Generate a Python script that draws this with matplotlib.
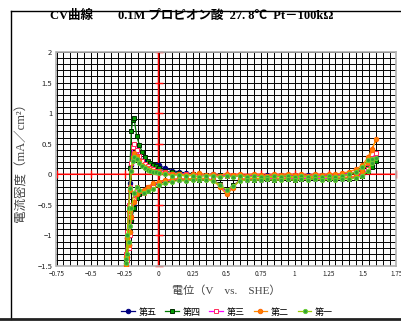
import matplotlib
matplotlib.use("Agg")
import matplotlib.pyplot as plt
from matplotlib.lines import Line2D
from matplotlib.ticker import MultipleLocator

plt.rcParams['font.family'] = ['Noto Sans CJK JP', 'DejaVu Sans']
SERIF = ['Liberation Serif', 'Noto Sans CJK JP', 'DejaVu Sans']

# potential sweep (V vs. SHE): forward then reverse
E_fwd = [-0.24, -0.23, -0.22, -0.21, -0.20, -0.19, -0.18, -0.16, -0.14, -0.12, -0.10, -0.08, -0.06, -0.04, -0.02, 0.00,
         0.05, 0.10, 0.15, 0.20, 0.25, 0.30, 0.35, 0.40, 0.45, 0.50,
         0.55, 0.60, 0.65, 0.70, 0.75, 0.80, 0.85, 0.90, 0.95, 1.00,
         1.05, 1.10, 1.15, 1.20, 1.25, 1.30, 1.35, 1.40, 1.45,
         1.50, 1.54, 1.57, 1.60]
E_rev = [1.57, 1.54, 1.50,
         1.45, 1.40, 1.35, 1.30, 1.25, 1.20, 1.15, 1.10, 1.05, 1.00,
         0.95, 0.90, 0.85, 0.80, 0.75, 0.70, 0.65, 0.60, 0.55, 0.50,
         0.45, 0.40, 0.35, 0.30, 0.25, 0.20, 0.15, 0.10, 0.05, 0.00,
         -0.04, -0.08, -0.11, -0.14, -0.16, -0.18, -0.20, -0.21, -0.22, -0.23, -0.24]
E = E_fwd + E_rev

# current density (mA/cm2)
y5 = [-1.40, -1.05, -0.60, -0.15, 0.15, 0.30, 0.33, 0.30, 0.26, 0.22, 0.20, 0.18, 0.17, 0.16, 0.15, 0.15,
      0.10, 0.06, 0.04, 0.02, 0.01, 0.00, -0.01, 0.00, -0.02, -0.01,
      -0.02, -0.01, -0.02, -0.01, -0.02, -0.01, -0.02, -0.01, -0.02, -0.01,
      -0.02, -0.01, -0.02, -0.01, -0.01, -0.01, 0.00, 0.01, 0.03,
      0.08, 0.15, 0.22, 0.28,
      0.15, 0.06, -0.01,
      -0.05, -0.06, -0.07, -0.07, -0.08, -0.07, -0.08, -0.07, -0.08, -0.08,
      -0.07, -0.08, -0.08, -0.08, -0.09, -0.08, -0.09, -0.09, -0.19, -0.28,
      -0.17, -0.10, -0.08, -0.09, -0.08, -0.09, -0.09, -0.10, -0.12, -0.14,
      -0.18, -0.22, -0.27, -0.30, -0.36, -0.52, -0.75, -0.95, -1.15, -1.35, -1.45]
y4 = [-1.40, -1.00, -0.55, 0.10, 0.70, 0.88, 0.92, 0.62, 0.48, 0.36, 0.28, 0.22, 0.19, 0.16, 0.13, 0.10,
      0.05, 0.03, 0.02, 0.01, 0.00, 0.00, -0.01, -0.02, -0.01, -0.02,
      -0.03, -0.02, -0.02, -0.03, -0.02, -0.03, -0.02, -0.04, -0.03, -0.02,
      -0.03, -0.02, -0.03, -0.02, -0.03, -0.02, -0.01, -0.01, 0.02,
      0.08, 0.15, 0.20, 0.22,
      0.12, 0.05, -0.02,
      -0.05, -0.07, -0.06, -0.08, -0.07, -0.08, -0.06, -0.08, -0.07, -0.09,
      -0.07, -0.08, -0.09, -0.07, -0.08, -0.09, -0.08, -0.10, -0.18, -0.27,
      -0.16, -0.10, -0.08, -0.09, -0.08, -0.09, -0.08, -0.10, -0.12, -0.14,
      -0.18, -0.22, -0.28, -0.32, -0.38, -0.55, -0.75, -0.95, -1.15, -1.35, -1.45]
y3 = [-1.30, -0.95, -0.50, -0.20, 0.18, 0.45, 0.50, 0.40, 0.30, 0.22, 0.17, 0.13, 0.10, 0.08, 0.06, 0.05,
      0.03, 0.01, 0.00, 0.01, -0.01, 0.00, -0.02, -0.01, -0.03, -0.02,
      -0.01, -0.03, -0.02, -0.01, -0.03, -0.02, -0.01, -0.03, -0.02, -0.01,
      -0.02, -0.03, -0.01, -0.02, -0.01, -0.02, 0.00, 0.01, 0.04,
      0.10, 0.18, 0.26, 0.35,
      0.20, 0.08, 0.00,
      -0.04, -0.06, -0.05, -0.07, -0.06, -0.08, -0.05, -0.07, -0.06, -0.08,
      -0.06, -0.07, -0.08, -0.06, -0.07, -0.08, -0.07, -0.09, -0.20, -0.30,
      -0.18, -0.09, -0.07, -0.08, -0.07, -0.08, -0.07, -0.09, -0.11, -0.13,
      -0.17, -0.21, -0.30, -0.28, -0.21, -0.40, -0.70, -1.00, -1.20, -1.40, -1.50]
y2 = [-1.35, -1.05, -0.60, -0.25, 0.05, 0.28, 0.35, 0.30, 0.22, 0.16, 0.12, 0.09, 0.07, 0.05, 0.04, 0.03,
      0.02, 0.00, 0.01, -0.01, 0.00, 0.02, -0.01, 0.00, -0.02, 0.01,
      -0.01, 0.00, -0.02, 0.01, -0.01, -0.02, 0.00, -0.01, 0.01, -0.01,
      0.00, -0.02, 0.00, -0.01, 0.01, 0.00, 0.02, 0.04, 0.08,
      0.15, 0.28, 0.42, 0.57,
      0.40, 0.20, 0.05,
      -0.03, -0.05, -0.04, -0.06, -0.05, -0.04, -0.06, -0.05, -0.04, -0.06,
      -0.05, -0.07, -0.05, -0.06, -0.07, -0.06, -0.07, -0.08, -0.22, -0.33,
      -0.20, -0.10, -0.07, -0.06, -0.07, -0.08, -0.07, -0.08, -0.10, -0.12,
      -0.15, -0.20, -0.25, -0.28, -0.32, -0.45, -0.70, -0.95, -1.15, -1.35, -1.48]
y1 = [-1.38, -1.00, -0.55, -0.22, 0.05, 0.22, 0.28, 0.25, 0.18, 0.13, 0.10, 0.07, 0.05, 0.04, 0.03, 0.02,
      0.00, -0.02, -0.01, -0.03, -0.02, -0.04, -0.02, -0.03, -0.05, -0.03,
      -0.04, -0.02, -0.05, -0.03, -0.04, -0.05, -0.03, -0.04, -0.02, -0.05,
      -0.03, -0.04, -0.03, -0.05, -0.03, -0.04, -0.02, 0.00, 0.04,
      0.12, 0.23, 0.25, 0.26,
      0.18, 0.06, -0.02,
      -0.06, -0.08, -0.07, -0.09, -0.08, -0.10, -0.07, -0.09, -0.08, -0.10,
      -0.08, -0.09, -0.10, -0.08, -0.09, -0.10, -0.09, -0.11, -0.19, -0.26,
      -0.17, -0.11, -0.09, -0.10, -0.09, -0.11, -0.10, -0.12, -0.15, -0.18,
      -0.24, -0.28, -0.30, -0.26, -0.20, -0.30, -0.55, -0.85, -1.10, -1.30, -1.45]

labels = ['第五', '第四', '第三', '第二', '第一']
series = [y5, y4, y3, y2, y1]
styles = [
    dict(color='#000080', marker='o', mfc='#000080', mec='#000080', ms=3.2),
    dict(color='#007a00', marker='s', mfc='#009a00', mec='#002a00', ms=3.4),
    dict(color='#ff00ff', marker='s', mfc='white', mec='#ff2a5a', ms=3.4),
    dict(color='#ff8c00', marker='o', mfc='#ff7f00', mec='#ff6600', ms=3.2),
    dict(color='#99cc00', marker='o', mfc='#33a033', mec='#66cc33', ms=3.0),
]

title = 'CV曲線　　0.1M プロピオン酸  27. 8℃  Pt－100kΩ'
xlabel = '電位（V　vs.　SHE）'
ylabel = '電流密度（mA／cm²）'
xticks = [-0.75, -0.5, -0.25, 0, 0.25, 0.5, 0.75, 1, 1.25, 1.5, 1.75]
xticklabels = ['−0.75', '−0.5', '−0.25', '0', '0.25', '0.5', '0.75', '1', '1.25', '1.5', '1.75']
yticks = [-1.5, -1, -0.5, 0, 0.5, 1, 1.5, 2]
yticklabels = ['−1.5', '−1', '−0.5', '0', '0.5', '1', '1.5', '2']

fig = plt.figure(figsize=(4.02, 3.23), dpi=100)
fig.patch.set_facecolor('white')
ax = fig.add_axes([56.5/402, 1-266/323, 340/402, 214/323])
ax.set_facecolor('#fbfbfb')
ax.set_xlim(-0.75, 1.75)
ax.set_ylim(-1.5, 2)

ax.xaxis.set_minor_locator(MultipleLocator(0.05))
ax.yaxis.set_minor_locator(MultipleLocator(0.1))
ax.set_xticks(xticks)
ax.set_xticklabels(xticklabels, fontsize=4.6)
ax.set_yticks(yticks)
ax.set_yticklabels(yticklabels, fontsize=5.5)
ax.tick_params(which='both', length=0, pad=3, colors='#222222')
ax.grid(which='both', color='black', lw=0.7, zorder=0.5)
ax.set_axisbelow(True)
for s in ax.spines.values():
    s.set_color('#b0b0b0')
    s.set_linewidth(1.2)

# red axes crossing at zero
ax.plot([-0.75, 1.75], [0, 0], color='red', lw=1.1, zorder=2.5, snap=False)
ax.plot([0, 0], [-1.5, 2], color='red', lw=1.1, zorder=2.5, snap=False)
ax.plot([0]*len(yticks), yticks, ls='none', marker='_', ms=6, mew=1.0, color='red', zorder=2.5, clip_on=False)
ax.plot(xticks, [0]*len(xticks), ls='none', marker='|', ms=6, mew=1.0, color='red', zorder=2.5, clip_on=False)

handles = []
for i, (lab, yv, st) in enumerate(zip(labels, series, styles)):
    h, = ax.plot(E, yv, lw=0.9, mew=0.7, label=lab, zorder=3+i, **st)
    handles.append(h)

fig.text(192/402, 1-16/323, title, ha='center', va='center', fontsize=9, fontweight='bold',
         color='black', family=SERIF)
ax.set_xlabel(xlabel, fontsize=8, color='#444444', labelpad=5, family=SERIF)
ax.set_ylabel(ylabel, fontsize=9, color='#444444', labelpad=7, family=SERIF)

leg = fig.legend(handles=handles, labels=labels, loc='center', bbox_to_anchor=(227/402, 1-312/323),
                 ncol=5, frameon=False, fontsize=6.5, handlelength=1.5, handletextpad=0.4,
                 columnspacing=1.0, borderpad=0.1)

# outer chart frame
fig.add_artist(Line2D([11/402, 11/402], [1-11/323, 1-319/323], transform=fig.transFigure, color='black', lw=1.0))
fig.add_artist(Line2D([11/402, 1.0], [1-11/323, 1-11/323], transform=fig.transFigure, color='black', lw=1.0))
fig.add_artist(Line2D([0.0, 1.0], [1-319/323, 1-319/323], transform=fig.transFigure, color='#222222', lw=2.0))

fig.savefig('out.png', dpi=100)
